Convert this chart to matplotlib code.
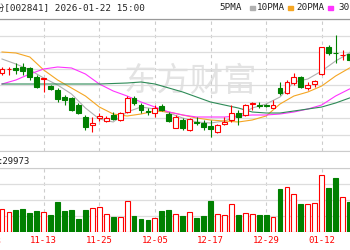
import numpy as np
import matplotlib.pyplot as plt
from matplotlib.lines import Line2D
from matplotlib.patches import Rectangle

plt.rcParams['font.family'] = ['DejaVu Sans Mono', 'Noto Sans CJK SC']

# K线数据 (11-05 .. 01-16)
opens = [42.7, 43.1, 43.2, 43.3, 43.2, 42.3, 42.15, 41.4, 41.0, 40.3,
         40.2, 39.5, 38.3, 37.5, 38.2, 37.9, 38.5, 38.0, 38.8, 40.2,
         39.5, 38.9, 38.7, 39.4, 38.6, 37.2, 38.0, 37.0, 37.8, 37.7,
         37.4, 36.8, 37.6, 38.0, 38.7, 38.5, 39.65, 39.45, 39.5, 39.2,
         41.2, 40.7, 41.7, 42.3, 41.2, 41.6, 42.6, 45.3, 44.75, 44.5, 44.6]
highs = [43.3, 43.3, 43.7, 43.7, 43.3, 42.5, 42.2, 41.5, 41.2, 40.5,
         40.3, 39.7, 38.5, 38.3, 38.7, 38.4, 38.8, 38.8, 40.4, 40.4,
         39.7, 39.2, 39.5, 39.6, 38.8, 38.5, 38.2, 38.2, 38.3, 38.0,
         38.0, 37.6, 38.3, 39.5, 39.0, 39.6, 39.8, 39.8, 39.6, 40.0,
         41.8, 42.0, 42.7, 42.4, 41.8, 42.0, 45.3, 45.5, 46.5, 45.0, 45.0]
lows = [42.5, 42.5, 42.6, 42.5, 42.0, 41.2, 40.8, 41.0, 39.8, 39.5,
        38.9, 38.6, 37.0, 36.8, 37.9, 37.8, 38.0, 37.9, 38.7, 39.5,
        38.7, 38.5, 38.3, 38.9, 37.8, 37.2, 37.0, 36.9, 37.5, 37.0,
        36.3, 36.7, 37.5, 37.8, 37.5, 38.4, 39.0, 39.2, 39.3, 39.2,
        40.5, 40.6, 41.5, 41.2, 41.0, 41.3, 42.5, 44.5, 43.7, 44.0, 43.8]
closes = [43.1, 43.12, 43.0, 42.9, 42.3, 41.3, 42.2, 41.1, 40.1, 40.0,
          39.0, 38.7, 37.3, 37.7, 38.4, 38.2, 38.1, 38.7, 40.2, 39.7,
          39.0, 38.8, 39.2, 39.0, 37.9, 38.3, 37.2, 38.1, 37.7, 37.3,
          37.1, 37.5, 37.8, 38.7, 38.3, 39.5, 39.7, 39.4, 39.4, 39.5,
          40.7, 41.8, 42.3, 41.3, 41.5, 41.9, 45.3, 44.7, 44.7, 44.55, 44.0]
volumes = [23.3, 19.7, 22.3, 23.3, 19.0, 20.7, 19.7, 17.3, 30.0, 20.7,
           21.7, 13.3, 22.3, 24.0, 25.0, 18.0, 15.0, 15.0, 30.7, 16.3,
           13.3, 11.7, 14.0, 21.3, 22.3, 18.0, 15.7, 20.0, 14.0, 15.7,
           31.3, 18.3, 17.3, 28.3, 16.7, 19.0, 18.3, 17.3, 16.7, 15.0,
           43.3, 44.7, 38.0, 28.0, 28.3, 29.0, 57.3, 44.0, 54.0, 34.7, 30.0]

# 均线, 每两根K线取一个点
ma_idx = list(range(0, 51, 2))
ma5 = [44.1, 43.6, 43.0, 42.2, 41.5, 40.6, 39.2, 38.1, 37.8, 38.8, 39.3, 39.1, 38.7,
       38.2, 37.8, 37.7, 37.9, 38.4, 39.2, 39.6, 40.3, 41.8, 42.1, 42.9, 43.9, 44.7]
ma10 = [44.8, 44.7, 44.3, 43.0, 42.0, 41.2, 40.4, 39.3, 38.6, 38.4, 38.6, 38.9, 38.8,
        38.5, 38.2, 38.0, 37.9, 37.8, 38.0, 38.4, 39.6, 40.4, 40.8, 41.4, 42.4, 43.2]
ma20 = [41.6, 42.0, 42.6, 43.1, 43.3, 43.2, 42.6, 41.6, 40.9, 40.4, 39.8, 39.3, 38.8,
        38.5, 38.3, 38.3, 38.3, 38.4, 38.5, 38.5, 38.6, 38.8, 39.1, 39.5, 40.4, 41.1]
ma30 = [41.6, 41.6, 41.6, 41.6, 41.6, 41.6, 41.6, 41.6, 41.65, 41.7, 41.8, 41.6, 41.2,
        40.8, 40.3, 39.8, 39.5, 39.2, 38.8, 38.7, 38.7, 38.9, 39.1, 39.3, 39.7, 40.2]

tick_pos = [6, 14, 22, 30, 38, 46]
tick_labels = ["11-13", "11-25", "12-05", "12-17", "12-29", "01-12"]

RED = '#ff0000'
GREEN = '#008000'
GRID = '#dddddd'

opens = np.array(opens)
closes = np.array(closes)
x = np.arange(len(opens))
up = closes >= opens

fig = plt.figure(figsize=(3.5, 2.5), dpi=100)
ax = fig.add_axes([0, 1 - 151 / 250, 1, 132 / 250])
axv = fig.add_axes([0, 1 - 232 / 250, 1, 64 / 250])

for a in (ax, axv):
    a.set_xlim(-0.29, 50.07)
    for s in ('left', 'right'):
        a.spines[s].set_visible(False)
    a.tick_params(left=False, labelleft=False, bottom=False, length=0)
    a.set_xticks(tick_pos)
    a.grid(axis='x', color='#cccccc', linestyle=(0, (3, 3)), linewidth=0.8)
    a.grid(axis='y', color=GRID, linewidth=0.9)
    a.set_axisbelow(True)

ax.set_ylim(34.9, 48.1)
ax.set_yticks(np.linspace(34.9, 48.1, 9))
ax.spines['top'].set_color('#999999')
ax.spines['bottom'].set_color('#cccccc')
ax.tick_params(labelbottom=False)

axv.set_ylim(0, 64)
axv.set_yticks([0, 16, 32, 48, 64])
axv.spines['top'].set_color('#cccccc')
axv.spines['bottom'].set_visible(False)
axv.set_xticklabels(tick_labels, color=RED, fontsize=6.5)
axv.tick_params(axis='x', pad=3)
axv.text(-2, -4.5, "11-03", color=RED, fontsize=6.5, ha='center', va='top', clip_on=False)

# 水印
ax.text(0.545, 0.53, "东方财富", transform=ax.transAxes, fontsize=24, color='#e3e3e3',
        ha='center', va='center', family='Noto Sans CJK SC', zorder=0)

# 均线
ax.plot(ma_idx, ma5, color='#b0b0b0', lw=0.8, zorder=2)
ax.plot(ma_idx, ma10, color='#f5a623', lw=0.8, zorder=2)
ax.plot(ma_idx, ma20, color='#ff33ff', lw=0.8, zorder=2)
ax.plot(ma_idx, ma30, color='#2e8b57', lw=0.8, zorder=2)

# K线
colors = np.where(up, RED, GREEN)
faces = np.where(up, 'white', GREEN)
ax.vlines(x, lows, highs, colors=colors, lw=0.8, zorder=3)
body = np.maximum(np.abs(closes - opens), 0.03)
ax.bar(x, body, bottom=np.minimum(opens, closes), width=0.7, color=faces,
       edgecolor=colors, linewidth=0.8, zorder=4)

# 成交量
axv.bar(x, volumes, width=0.7, color=faces, edgecolor=colors, linewidth=0.8, zorder=3)

# 顶部标题
fig.add_artist(Line2D([0, 1], [1 - 19 / 250, 1 - 19 / 250], color='#999999', lw=0.8))
fig.text(-5 / 350, 1 - 8 / 250, "份[002841] 2026-01-22 15:00", fontsize=6.7, color='#222222',
         va='center', ha='left')
legend_items = [("5PMA", 219, 250, '#b0b0b0'), ("10PMA", 257, 288, '#f5a623'),
                ("20PMA", 296, 328, '#ff33ff'), ("30PMA", 338, None, None)]
for name, px, mx, col in legend_items:
    fig.text(px / 350, 1 - 8 / 250, name, fontsize=6.7, color='#222222',
             va='center', ha='left')
    if col:
        fig.add_artist(Rectangle((mx / 350, 1 - 9.5 / 250), 5 / 350, 3 / 250,
                                 color=col, transform=fig.transFigure))
fig.text(-2 / 350, 1 - 161 / 250, ":29973", fontsize=6.5, color='#222222', va='center', ha='left')

fig.savefig("out.png", dpi=100)
